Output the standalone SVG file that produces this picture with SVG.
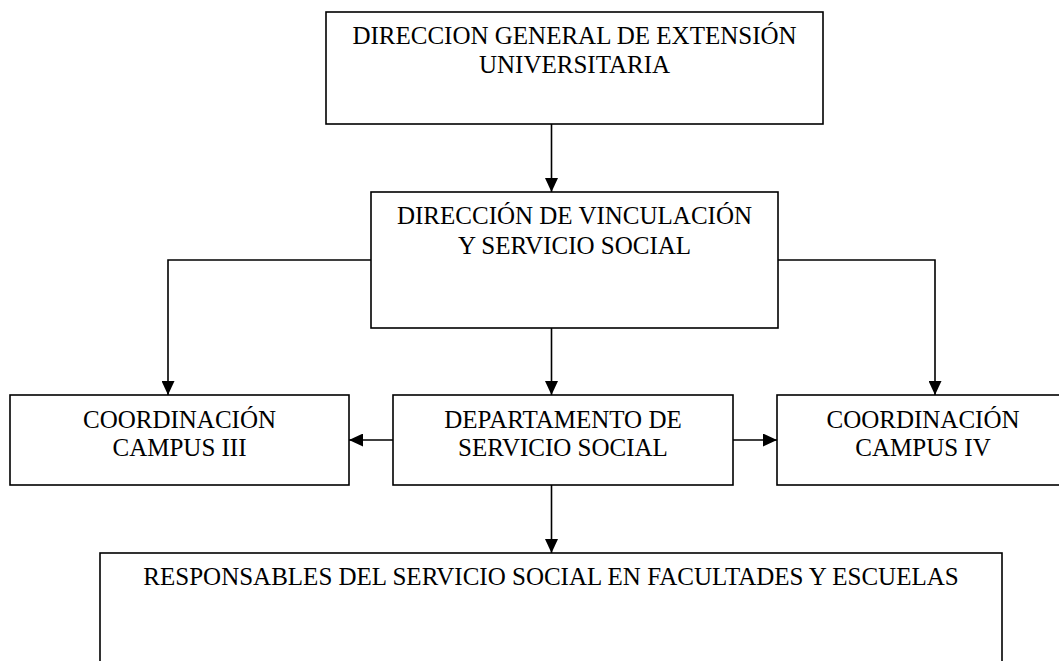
<svg xmlns="http://www.w3.org/2000/svg" width="1059" height="661" viewBox="0 0 1059 661">
<style>
.box{fill:#fff;stroke:#000;stroke-width:1.6}
.t{font-family:"Liberation Serif","Times New Roman",serif;font-size:25px;fill:#000;text-anchor:middle}
.c{fill:none;stroke:#000;stroke-width:1.6}
</style>
<defs>
<marker id="ah" viewBox="0 0 14 13" refX="14" refY="6.5" markerWidth="14" markerHeight="13" markerUnits="userSpaceOnUse" orient="auto">
<path d="M0,0 L14,6.5 L0,13 Z" fill="#000"/>
</marker>
</defs>
<rect width="1059" height="661" fill="#fff"/>
<g id="connectors">
<line class="c" x1="551.5" y1="124" x2="551.5" y2="192" marker-end="url(#ah)"/>
<polyline class="c" points="371,260 168,260 168,395" marker-end="url(#ah)"/>
<polyline class="c" points="778,260 935,260 935,395" marker-end="url(#ah)"/>
<line class="c" x1="551.5" y1="328" x2="551.5" y2="395" marker-end="url(#ah)"/>
<line class="c" x1="393" y1="440" x2="349" y2="440" marker-end="url(#ah)"/>
<line class="c" x1="733" y1="440" x2="777" y2="440" marker-end="url(#ah)"/>
<line class="c" x1="551.5" y1="485" x2="551.5" y2="553" marker-end="url(#ah)"/>
</g>
<g id="n1">
<rect class="box" x="326" y="12" width="497" height="112"/>
<text class="t" x="574.5" y="44">DIRECCION GENERAL DE EXTENSIÓN</text>
<text class="t" x="574.5" y="73">UNIVERSITARIA</text>
</g>
<g id="n2">
<rect class="box" x="371" y="192" width="407" height="136"/>
<text class="t" x="574.5" y="224">DIRECCIÓN DE VINCULACIÓN</text>
<text class="t" x="574.5" y="254">Y SERVICIO SOCIAL</text>
</g>
<g id="n3">
<rect class="box" x="10" y="395" width="339" height="90"/>
<text class="t" x="179.5" y="428">COORDINACIÓN</text>
<text class="t" x="179.5" y="456">CAMPUS III</text>
</g>
<g id="n4">
<rect class="box" x="393" y="395" width="340" height="90"/>
<text class="t" x="563" y="428">DEPARTAMENTO DE</text>
<text class="t" x="563" y="456">SERVICIO SOCIAL</text>
</g>
<g id="n5">
<rect class="box" x="777" y="395" width="292" height="90"/>
<text class="t" x="923" y="428">COORDINACIÓN</text>
<text class="t" x="923" y="456">CAMPUS IV</text>
</g>
<g id="n6">
<rect class="box" x="100" y="553" width="902" height="120"/>
<text class="t" x="551" y="585">RESPONSABLES DEL SERVICIO SOCIAL EN FACULTADES Y ESCUELAS</text>
</g>
</svg>
